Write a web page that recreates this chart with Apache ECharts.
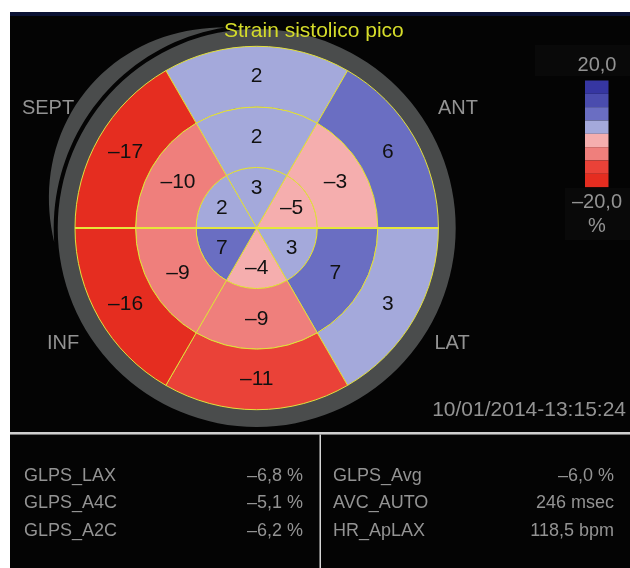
<!DOCTYPE html>
<html><head><meta charset="utf-8">
<script src="https://cdn.jsdelivr.net/npm/echarts@6/dist/echarts.min.js"></script>
<style>html,body{margin:0;padding:0;background:#fff}#c{width:630px;height:568px}</style>
</head><body><div id="c"></div>
<script>
// ---- data ----
const title = 'Strain sistolico pico';
const sectors = ['Ant-Sept', 'Ant', 'Lat', 'Post', 'Inf', 'Sept'];
const rings = ['Apical', 'Mid', 'Basal'];
const apicalStrain = [3, -5, 3, -4, 7, 2];
const midStrain = [2, -3, 7, -9, -9, -10];
const basalStrain = [2, 6, 3, -11, -16, -17];
const wallLabels = ['SEPT', 'ANT', 'INF', 'LAT'];
const scaleTicks = ['20,0', '–20,0'];
const scaleUnit = '%';
const timestamp = '10/01/2014-13:15:24';
const leftNames = ['GLPS_LAX', 'GLPS_A4C', 'GLPS_A2C'];
const leftValues = ['–6,8 %', '–5,1 %', '–6,2 %'];
const rightNames = ['GLPS_Avg', 'AVC_AUTO', 'HR_ApLAX'];
const rightValues = ['–6,0 %', '246 msec', '118,5 bpm'];

// ---- layout / style ----
const CX = 256.7, CY = 228, R = 181.7;
const FONT = '"Liberation Sans", Arial, Helvetica, sans-serif';
const GREY = '#939393';

const strainByRing = [apicalStrain, midStrain, basalStrain];
const data = [];
strainByRing.forEach((arr, ri) => arr.forEach((v, si) => data.push([ri, si, v])));
const fmt = v => (v < 0 ? '–' + Math.abs(v) : String(v));

// crescent decoration
const cres = [];
const a0 = 99, a1 = 184, N = 40;
for (let i = 0; i <= N; i++) {
  const t = i / N, a = (a0 + (a1 - a0) * t) * Math.PI / 180;
  const r = 203 + 16 * Math.sin(Math.PI * t);
  cres.push([CX + r * Math.cos(a), CY - r * Math.sin(a)]);
}
for (let i = N; i >= 0; i--) {
  const t = i / N, a = (a0 + (a1 - a0) * t) * Math.PI / 180;
  cres.push([CX + 203 * Math.cos(a), CY - 203 * Math.sin(a)]);
}

const txt = (x, y, text, size, align, color) => ({
  type: 'text', x, y, z: 50,
  style: { text, fill: color || GREY, font: size + 'px ' + FONT, align: align || 'left', verticalAlign: 'middle' }
});

const wallPos = [[48, 108], [458, 108], [63, 343], [452, 343]];
const rowsY = [476, 503, 531];

const graphics = [
  { type: 'rect', z: -10, shape: { x: 10, y: 12, width: 620, height: 420 }, style: { fill: '#040404' } },
  { type: 'rect', z: -9, shape: { x: 10, y: 12, width: 620, height: 4 }, style: { fill: '#0b1234' } },
  { type: 'rect', z: -9, shape: { x: 535, y: 45, width: 95, height: 31 }, style: { fill: '#090909' } },
  { type: 'rect', z: -9, shape: { x: 565, y: 188, width: 65, height: 52 }, style: { fill: '#090909' } },
  { type: 'rect', z: -10, shape: { x: 10, y: 432, width: 620, height: 2.5 }, style: { fill: '#cfcfcf' } },
  { type: 'rect', z: -10, shape: { x: 10, y: 434.5, width: 620, height: 134 }, style: { fill: '#040404' } },
  { type: 'rect', z: -9, shape: { x: 319.5, y: 434.5, width: 1.5, height: 134 }, style: { fill: '#d5d5d5' } },
  { type: 'ring', z: -5, shape: { cx: CX, cy: CY, r0: R - 1, r: 199 }, style: { fill: '#4a4c4c' } },
  { type: 'polygon', z: -5, shape: { points: cres }, style: { fill: '#4a4c4c' } },
  { type: 'line', z: 10, shape: { x1: CX - R, y1: CY, x2: CX + R, y2: CY }, style: { stroke: '#e6e63a', lineWidth: 1.8 } },
  txt(597, 65, scaleTicks[0], 20, 'center'),
  txt(597, 202, scaleTicks[1], 20, 'center'),
  txt(597, 226, scaleUnit, 20, 'center'),
  txt(626, 410, timestamp, 21, 'right')
];
wallLabels.forEach((w, i) => graphics.push(txt(wallPos[i][0], wallPos[i][1], w, 20, 'center')));
leftNames.forEach((n, i) => {
  graphics.push(txt(24, rowsY[i], n, 18, 'left'));
  graphics.push(txt(303, rowsY[i], leftValues[i], 18, 'right'));
});
rightNames.forEach((n, i) => {
  graphics.push(txt(333, rowsY[i], n, 18, 'left'));
  graphics.push(txt(614, rowsY[i], rightValues[i], 18, 'right'));
});

const chart = echarts.init(document.getElementById('c'));
chart.setOption({
  backgroundColor: '#ffffff',
  animation: false,
  title: {
    text: title, left: 219, top: 16,
    textStyle: { color: '#d5dc2a', fontSize: 21, fontWeight: 'normal', fontFamily: FONT }
  },
  polar: { center: [CX, CY], radius: [0, R] },
  angleAxis: { type: 'category', data: sectors, startAngle: 120, clockwise: true, show: false },
  radiusAxis: { type: 'category', data: rings, show: false },
  visualMap: {
    type: 'piecewise', seriesIndex: 0, dimension: 2,
    left: 585, top: 80.5, padding: 0,
    itemWidth: 23.5, itemHeight: 13.33, itemGap: 0, itemSymbol: 'rect',
    showLabel: false, selectedMode: false, hoverLink: false,
    pieces: [
      { gte: -20, lt: -15, color: '#e52d20' },
      { gte: -15, lt: -10, color: '#ea4238' },
      { gte: -10, lt: -5, color: '#ef7f7c' },
      { gte: -5, lt: 0, color: '#f5aeae' },
      { gte: 0, lt: 5, color: '#a4a9db' },
      { gte: 5, lt: 10, color: '#6a6ec2' },
      { gte: 10, lt: 15, color: '#4a4cae' },
      { gte: 15, lte: 20, color: '#3636a2' }
    ]
  },
  graphic: { elements: graphics },
  series: [{
    type: 'custom', coordinateSystem: 'polar', data,
    renderItem(params, api) {
      const cs = params.coordSys;
      const ri = api.value(0), si = api.value(1), v = api.value(2);
      const p = api.coord([ri, si]);
      const dx = p[0] - cs.cx, dy = p[1] - cs.cy;
      const rm = Math.sqrt(dx * dx + dy * dy);
      const ang = Math.atan2(dy, dx);
      const half = cs.r / rings.length / 2;
      const ha = Math.PI / sectors.length;
      const lr = ri === 0 ? rm * 1.33 : rm;
      return {
        type: 'group', children: [
          { type: 'sector', shape: { cx: cs.cx, cy: cs.cy, r0: Math.max(0, rm - half), r: rm + half, startAngle: ang - ha, endAngle: ang + ha },
            style: { fill: api.visual('color'), stroke: '#e2e03c', lineWidth: 1 } },
          { type: 'text', x: cs.cx + lr * Math.cos(ang), y: cs.cy + lr * Math.sin(ang),
            style: { text: fmt(v), fill: '#111', font: '21px ' + FONT, align: 'center', verticalAlign: 'middle' } }
        ]
      };
    }
  }]
});
</script>
</body></html>
